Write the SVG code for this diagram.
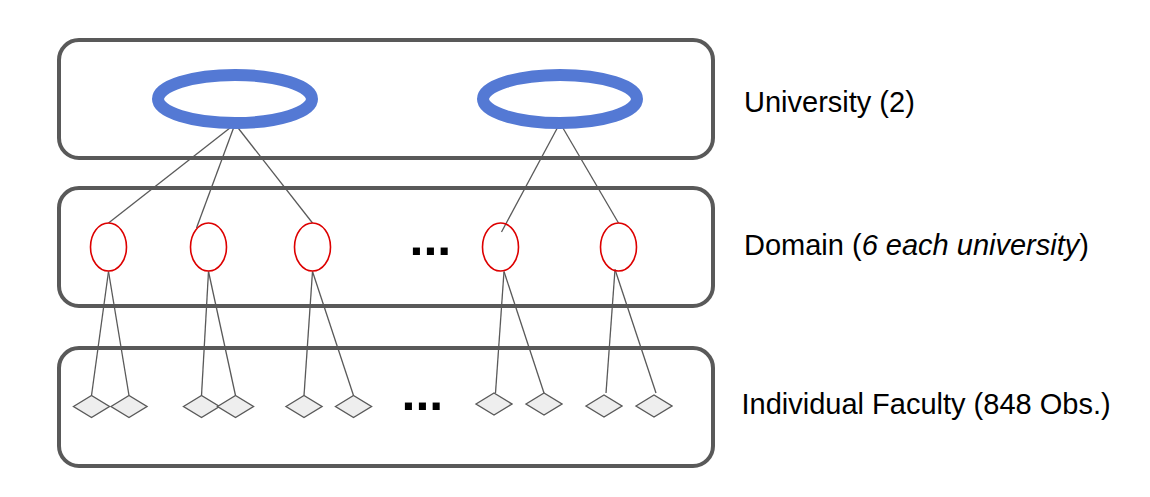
<svg xmlns="http://www.w3.org/2000/svg" width="1150" height="497" viewBox="0 0 1150 497">
<style>
.band{fill:none;stroke:#595959;stroke-width:4}
.uni{fill:none;stroke:#5479d4;stroke-width:12}
.dom{fill:none;stroke:#dd0000;stroke-width:1.6}
.fac{fill:#eeeeee;stroke:#595959;stroke-width:1.4}
.edge{stroke:#595959;stroke-width:1.3;fill:none}
.lbl{font-family:"Liberation Sans",Arial,sans-serif;font-size:29px;fill:#000}
.dots{font-family:"Liberation Sans",Arial,sans-serif;font-size:50px;font-weight:bold;fill:#000}
</style>
<rect width="1150" height="497" fill="#fff"/>
<g id="band-university"><rect class="band" x="59" y="40" width="654" height="118" rx="20"/></g>
<g id="band-domain"><rect class="band" x="59" y="188" width="654" height="118" rx="20"/></g>
<g id="band-faculty"><rect class="band" x="59" y="348" width="654" height="118" rx="20"/></g>
<g id="connectors">
<line class="edge" x1="235" y1="124" x2="108.5" y2="223"/>
<line class="edge" x1="235" y1="124" x2="196.5" y2="228"/>
<line class="edge" x1="235" y1="124" x2="312.5" y2="223"/>
<line class="edge" x1="560" y1="123" x2="501.5" y2="232"/>
<line class="edge" x1="560" y1="123" x2="618.5" y2="223"/>
<line class="edge" x1="108.5" y1="271.5" x2="91.5" y2="395.5"/>
<line class="edge" x1="108.5" y1="271.5" x2="129" y2="395.5"/>
<line class="edge" x1="208.5" y1="271.5" x2="201.5" y2="395.5"/>
<line class="edge" x1="208.5" y1="271.5" x2="235.5" y2="395.5"/>
<line class="edge" x1="312.5" y1="271.5" x2="304" y2="395.5"/>
<line class="edge" x1="312.5" y1="271.5" x2="353.5" y2="395.5"/>
<line class="edge" x1="504" y1="271.5" x2="495.5" y2="393"/>
<line class="edge" x1="504" y1="271.5" x2="544" y2="393"/>
<line class="edge" x1="615" y1="269.5" x2="606" y2="393"/>
<line class="edge" x1="615" y1="269.5" x2="656" y2="393"/>
</g>
<g id="university-1"><ellipse class="uni" cx="235" cy="99" rx="77" ry="24"/></g>
<g id="university-2"><ellipse class="uni" cx="560" cy="99" rx="77" ry="24"/></g>
<g id="domain-1"><ellipse class="dom" cx="108.5" cy="247" rx="18" ry="24"/></g>
<g id="domain-2"><ellipse class="dom" cx="208.5" cy="247" rx="18" ry="24"/></g>
<g id="domain-3"><ellipse class="dom" cx="312.5" cy="247" rx="18" ry="24"/></g>
<g id="domain-4"><ellipse class="dom" cx="500.5" cy="247" rx="18" ry="24"/></g>
<g id="domain-5"><ellipse class="dom" cx="618.5" cy="247" rx="18" ry="24"/></g>
<g id="faculty">
<polygon class="fac" points="73.5,406.5 91.5,395.5 109.5,406.5 91.5,417.5"/>
<polygon class="fac" points="111,406.5 129,395.5 147,406.5 129,417.5"/>
<polygon class="fac" points="183.5,406.5 201.5,395.5 219.5,406.5 201.5,417.5"/>
<polygon class="fac" points="217.5,406.5 235.5,395.5 253.5,406.5 235.5,417.5"/>
<polygon class="fac" points="286,406.5 304,395.5 322,406.5 304,417.5"/>
<polygon class="fac" points="335.5,406.5 353.5,395.5 371.5,406.5 353.5,417.5"/>
<polygon class="fac" points="476,404 494,393 512,404 494,415"/>
<polygon class="fac" points="526,404 544,393 562,404 544,415"/>
<polygon class="fac" points="586,406 604,395 622,406 604,417"/>
<polygon class="fac" points="636,406 654,395 672,406 654,417"/>
</g>
<g id="ellipses">
<text class="dots" x="409.5" y="255">...</text>
<text class="dots" x="401.5" y="410">...</text>
</g>
<g id="labels">
<text class="lbl" x="744" y="112">University (2)</text>
<text class="lbl" x="744" y="255">Domain (<tspan font-style="italic">6 each university</tspan>)</text>
<text class="lbl" x="741.5" y="413.5">Individual Faculty (848 Obs.)</text>
</g>
</svg>
